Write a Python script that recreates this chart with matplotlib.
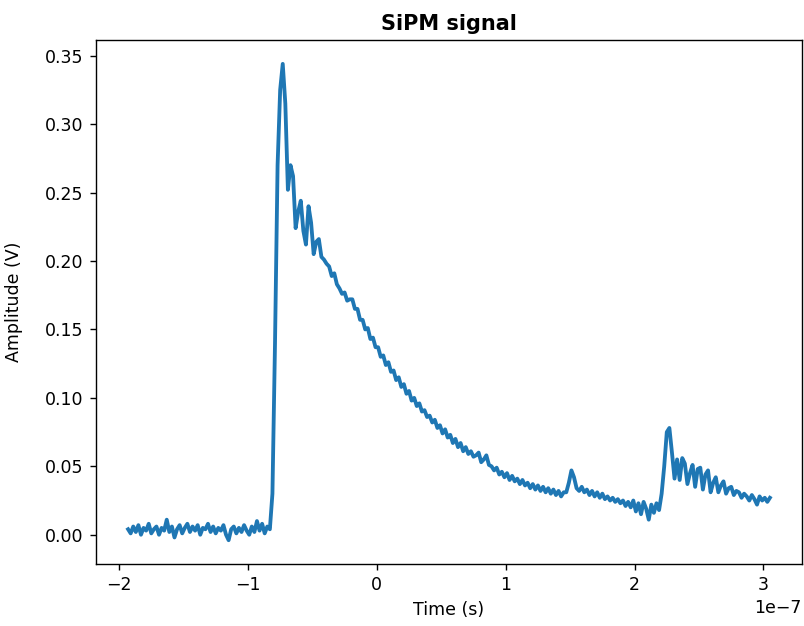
"""SiPM waveform: amplitude vs. time with a prompt peak and two afterpulses."""

import numpy as np
import matplotlib

matplotlib.use("Agg")
import matplotlib.pyplot as plt

# sample spacing of the read-off values, in units of 1e-7 s
STEP = 0.02

# pre-trigger baseline, starts at -1.93e-7 s
BASELINE_START = -1.93
baseline = [
    0.004, 0.001, 0.006, 0.002, 0.007, 0.000, 0.005, 0.003, 0.008, 0.001,
    0.004, 0.006, 0.000, 0.005, 0.003, 0.011, 0.002, 0.006, -0.002, 0.004,
    0.007, 0.001, 0.005, 0.008, 0.002, 0.006, 0.003, 0.007, 0.000, 0.005,
    0.004, 0.008, 0.002, 0.006, 0.001, 0.005, 0.003, 0.007, 0.000, -0.004,
    0.004, 0.006, 0.001, 0.005, 0.002, 0.007, 0.003, 0.000, 0.006, 0.002,
    0.010, 0.003, 0.008, 0.001, 0.006,
]

# leading edge and main peak
RISE_START = -0.83
rise = [0.004, 0.030, 0.140, 0.270, 0.325, 0.344, 0.315, 0.252, 0.270]

# ringing just after the peak
RINGING_START = -0.65
ringing = [
    0.262, 0.224, 0.236, 0.244, 0.222, 0.212, 0.240, 0.228, 0.205, 0.214,
    0.216, 0.203, 0.201, 0.198, 0.196, 0.189, 0.191, 0.183, 0.180, 0.176,
    0.177, 0.171, 0.172,
]

# slow recovery tail
DECAY_START = -0.19
decay = [
    0.172, 0.165, 0.165, 0.157, 0.157, 0.150, 0.151, 0.143, 0.144, 0.137,
    0.137, 0.130, 0.131, 0.124, 0.126, 0.119, 0.120, 0.113, 0.115, 0.108,
    0.110, 0.103, 0.105, 0.098, 0.100, 0.094, 0.096, 0.090, 0.091, 0.086,
    0.087, 0.082, 0.084, 0.078, 0.080, 0.074, 0.077, 0.071, 0.073, 0.067,
    0.070, 0.064, 0.067, 0.061, 0.064, 0.059, 0.061, 0.057, 0.058, 0.060,
    0.053, 0.055, 0.058, 0.051, 0.050, 0.047, 0.049, 0.044, 0.046, 0.042,
    0.045, 0.040, 0.043, 0.039, 0.041, 0.037, 0.040, 0.036, 0.038, 0.034,
    0.037, 0.033, 0.036, 0.032, 0.035, 0.031, 0.034, 0.030, 0.033, 0.029,
    0.032, 0.028, 0.031,
]

# small afterpulse near 1.5e-7 s, then the larger one near 2.3e-7 s
LATE_START = 1.47
late = [
    0.031, 0.038, 0.047, 0.042, 0.034, 0.032, 0.035, 0.031,
    0.033, 0.029, 0.032, 0.028, 0.031, 0.027, 0.030, 0.026, 0.028, 0.025,
    0.027, 0.024, 0.026, 0.023, 0.025, 0.021, 0.024, 0.020, 0.025, 0.017,
    0.023, 0.015, 0.024, 0.019, 0.011, 0.022, 0.016, 0.023, 0.018, 0.030,
    0.050, 0.075, 0.078, 0.060, 0.041, 0.055, 0.040, 0.056, 0.052, 0.037,
    0.045, 0.051, 0.035, 0.048, 0.049, 0.033, 0.044, 0.047, 0.031, 0.038,
    0.042, 0.031, 0.036, 0.039, 0.030, 0.034, 0.035, 0.029, 0.032, 0.031,
    0.027, 0.030, 0.028, 0.025, 0.029, 0.026, 0.022, 0.028, 0.025, 0.027,
    0.024, 0.027,
]

segments = [
    (BASELINE_START, baseline),
    (RISE_START, rise),
    (RINGING_START, ringing),
    (DECAY_START, decay),
    (LATE_START, late),
]

time = np.concatenate([start + STEP * np.arange(len(vals)) for start, vals in segments]) * 1e-7
amplitude = np.concatenate([np.asarray(vals, dtype=float) for _, vals in segments])

fig = plt.figure(figsize=(6.432, 5.008), dpi=125)
ax = fig.add_axes([0.1194, 0.0990, 0.8781, 0.8370])
ax.plot(time, amplitude, color="#1f77b4", linewidth=2.2)

ax.set_title("SiPM signal", fontweight="bold")
ax.set_xlabel("Time (s)")
ax.set_ylabel("Amplitude (V)")
ax.yaxis.set_label_coords(-0.104, 0.5)

fig.savefig("out.png", dpi=125)
plt.close(fig)
